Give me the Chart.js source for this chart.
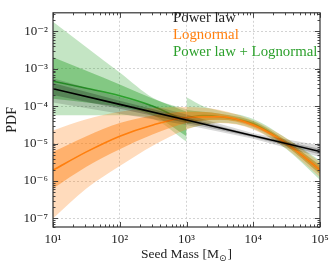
<!DOCTYPE html>
<html><head><meta charset="utf-8">
<script src="https://cdn.jsdelivr.net/npm/chart.js@4.4.1/dist/chart.umd.min.js"></script>
<style>html,body{margin:0;padding:0;background:#fff}canvas{display:block}</style>
</head><body>
<canvas id="c" width="335" height="268"></canvas>
<script>
// ---- data (log10 of seed mass, log10 of PDF) ----
const lnMassLog = [1, 1.5, 2, 2.5, 3, 3.5, 4, 4.5, 5];
// Lognormal (orange)
const lnMid = [-5.71, -5.22, -4.80, -4.50, -4.30, -4.28, -4.50, -5.00, -5.70];
const lnHi1 = [-5.22, -4.80, -4.45, -4.25, -4.15, -4.20, -4.44, -4.93, -5.60];
const lnLo1 = [-6.20, -5.62, -5.15, -4.75, -4.45, -4.36, -4.56, -5.07, -5.80];
const lnHi2 = [-4.65, -4.35, -4.15, -4.05, -4.02, -4.10, -4.38, -4.86, -5.50];
const lnLo2 = [-7.00, -6.20, -5.60, -5.05, -4.62, -4.45, -4.62, -5.14, -5.90];
// Power law (black)
const plMassLog = [1, 2, 3, 4, 5];
const plMid = [-3.53, -3.95, -4.37, -4.79, -5.21];
const plHi1 = [-3.38, -3.85, -4.30, -4.76, -5.14];
const plLo1 = [-3.70, -4.07, -4.45, -4.83, -5.29];
const plHi2 = [-3.25, -3.75, -4.22, -4.72, -5.05];
const plLo2 = [-3.90, -4.20, -4.50, -4.87, -5.36];
// Power law + Lognormal (green): power-law part (10 - 1e3)
const cLoMassLog = [1, 1.5, 2, 2.5, 3];
const cLoMid = [-3.33, -3.52, -3.72, -4.00, -4.41];
const cLoHi1 = [-2.69, -3.05, -3.42, -3.80, -4.15];
const cLoLo1 = [-3.80, -3.90, -4.02, -4.25, -4.80];
const cLoHi2 = [-1.74, -2.42, -3.10, -3.78, -4.08];
const cLoLo2 = [-4.24, -4.24, -4.24, -4.34, -4.95];
// Power law + Lognormal (green): lognormal part (1e3 - 1e5)
const cHiMassLog = [3, 3.25, 3.5, 4, 4.5, 5];
const cHiMid = [-4.30, -4.25, -4.28, -4.47, -5.00, -5.70];
const cHiHi1 = [-4.10, -4.15, -4.20, -4.40, -4.93, -5.58];
const cHiLo1 = [-4.48, -4.38, -4.36, -4.53, -5.07, -5.82];
const cHiHi2 = [-3.76, -4.00, -4.12, -4.34, -4.86, -5.45];
const cHiLo2 = [-4.60, -4.50, -4.44, -4.60, -5.15, -5.97];

const legendLabels = ['Power law', 'Lognormal', 'Power law + Lognormal'];
const xTickExps = [1, 2, 3, 4, 5];
const yTickExps = [-7, -6, -5, -4, -3, -2];

const SERIF = "'Liberation Serif', 'DejaVu Serif', serif";
const C_OR = '#ff7f0e', C_GR = '#2ca02c', C_BK = '#000000';
function rgba(hex, a) {
  const n = parseInt(hex.slice(1), 16);
  return `rgba(${n >> 16},${(n >> 8) & 255},${n & 255},${a})`;
}
function pts(xs, ys) { return xs.map((lx, i) => ({ x: Math.pow(10, lx), y: Math.pow(10, ys[i]) })); }

const datasets = [];
function addBand(xs, hi, lo, color, order, smooth) {
  const common = { pointRadius: 0, borderWidth: 0, borderColor: 'rgba(0,0,0,0)', order,
    cubicInterpolationMode: smooth ? 'monotone' : 'default', tension: 0 };
  datasets.push(Object.assign({ data: pts(xs, hi), fill: '+1', backgroundColor: color }, common));
  datasets.push(Object.assign({ data: pts(xs, lo), fill: false }, common));
}
function addLine(xs, ys, color, order, smooth) {
  datasets.push({ data: pts(xs, ys), fill: false, borderColor: color, borderWidth: 1.6, pointRadius: 0, order,
    cubicInterpolationMode: smooth ? 'monotone' : 'default', tension: 0 });
}
// green (bottom)
addBand(cLoMassLog, cLoHi2, cLoLo2, rgba(C_GR, 0.28), 90, true);
addBand(cLoMassLog, cLoHi1, cLoLo1, rgba(C_GR, 0.42), 89, true);
addLine(cLoMassLog, cLoMid, C_GR, 88, true);
addBand(cHiMassLog, cHiHi2, cHiLo2, rgba(C_GR, 0.28), 87, true);
addBand(cHiMassLog, cHiHi1, cHiLo1, rgba(C_GR, 0.42), 86, true);
addLine(cHiMassLog, cHiMid, C_GR, 85, true);
// orange
addBand(lnMassLog, lnHi2, lnLo2, rgba(C_OR, 0.28), 70, true);
addBand(lnMassLog, lnHi1, lnLo1, rgba(C_OR, 0.45), 69, true);
addLine(lnMassLog, lnMid, C_OR, 68, true);
// black (top)
addBand(plMassLog, plHi2, plLo2, 'rgba(0,0,0,0.15)', 50, false);
addBand(plMassLog, plHi1, plLo1, 'rgba(0,0,0,0.22)', 49, false);
addLine(plMassLog, plMid, C_BK, 48, false);

const sup = { '0': '⁰', '1': '¹', '2': '²', '3': '³', '4': '⁴', '5': '⁵', '6': '⁶', '7': '⁷', '8': '⁸', '9': '⁹', '-': '⁻' };
function isDecade(v, exps) {
  const l = Math.log10(v); const r = Math.round(l);
  return Math.abs(l - r) < 1e-6 && exps.includes(r);
}
function decLabel(v, exps) {
  if (!isDecade(v, exps)) return '';
  const r = Math.round(Math.log10(v));
  return '10' + String(r).split('').map(c => sup[c]).join('');
}

const deco = {
  id: 'deco',
  afterDatasetsDraw(chart) {
    const { ctx, chartArea: a, scales: { x, y } } = chart;
    ctx.save();
    ctx.strokeStyle = '#333'; ctx.lineWidth = 0.9;
    const seg = (x1, y1, x2, y2) => { ctx.beginPath(); ctx.moveTo(x1, y1); ctx.lineTo(x2, y2); ctx.stroke(); };
    for (let e = 1; e <= 5; e++) for (let m = 1; m <= 9; m++) {
      const v = m * Math.pow(10, e); if (v < x.min * 0.999 || v > x.max * 1.001) continue;
      const px = Math.round(x.getPixelForValue(v)) + 0.5, len = m === 1 ? 5 : 2.5;
      seg(px, a.bottom, px, a.bottom - len); seg(px, a.top, px, a.top + len);
    }
    for (let e = -8; e <= -1; e++) for (let m = 1; m <= 9; m++) {
      const v = m * Math.pow(10, e); if (v < y.min || v > y.max) continue;
      const py = Math.round(y.getPixelForValue(v)) + 0.5, len = m === 1 ? 5 : 2.5;
      seg(a.left, py, a.left + len, py); seg(a.right, py, a.right - len, py);
    }
    ctx.lineWidth = 1.2;
    ctx.strokeRect(a.left, a.top, a.right - a.left, a.bottom - a.top);
    // x title with subscript
    ctx.fillStyle = '#222';
    ctx.textBaseline = 'alphabetic';
    const f1 = '13.5px ' + SERIF, f2 = '9px ' + 'DejaVu Sans, sans-serif';
    ctx.font = f1; const t1 = 'Seed Mass [M', t3 = ']';
    const w1 = ctx.measureText(t1).width, w3 = ctx.measureText(t3).width;
    ctx.font = f2; const t2 = '⊙'; const w2 = ctx.measureText(t2).width;
    const cx = (a.left + a.right) / 2, tot = w1 + w2 + w3 + 1;
    let sx = cx - tot / 2; const by = 258;
    ctx.font = f1; ctx.textAlign = 'left'; ctx.fillText(t1, sx, by);
    ctx.font = f2; ctx.fillText(t2, sx + w1, by + 3);
    ctx.font = f1; ctx.fillText(t3, sx + w1 + w2 + 1, by);
    // legend (text only)
    ctx.font = '14.8px ' + SERIF;
    const cols = ['#222', C_OR, C_GR];
    legendLabels.forEach((t, i) => { ctx.fillStyle = cols[i]; ctx.fillText(t, 173, 22 + 17 * i); });
    ctx.restore();
  }
};

new Chart(document.getElementById('c'), {
  type: 'line',
  data: { datasets },
  options: {
    responsive: false, animation: false, devicePixelRatio: 1,
    layout: { padding: { top: 6, right: 15, left: 0, bottom: 0 } },
    plugins: { legend: { display: false }, tooltip: { enabled: false } },
    scales: {
      x: {
        type: 'logarithmic', min: 10, max: 1e5,
        afterFit: s => { s.height = 41; },
        grid: { drawTicks: false, lineWidth: 0.8, color: c => isDecade(c.tick.value, [2, 3, 4]) ? '#c8c8c8' : 'rgba(0,0,0,0)' },
        border: { display: false, dash: [2, 2] },
        ticks: { autoSkip: false, maxRotation: 0, padding: 5, color: '#222', font: { family: SERIF, size: 13 },
          callback: v => decLabel(v, xTickExps) },
        title: { display: false }
      },
      y: {
        type: 'logarithmic', min: Math.pow(10, -7.23), max: Math.pow(10, -1.5),
        afterFit: s => { s.width = 53; },
        grid: { drawTicks: false, lineWidth: 0.8, color: c => isDecade(c.tick.value, yTickExps) ? '#c8c8c8' : 'rgba(0,0,0,0)' },
        border: { display: false, dash: [2, 2] },
        ticks: { autoSkip: false, padding: 5, color: '#222', font: { family: SERIF, size: 13 },
          callback: v => decLabel(v, yTickExps) },
        title: { display: true, text: 'PDF', color: '#222', font: { family: SERIF, size: 14 }, padding: { top: 4, bottom: 0 } }
      }
    }
  },
  plugins: [deco]
});
</script>
</body></html>
